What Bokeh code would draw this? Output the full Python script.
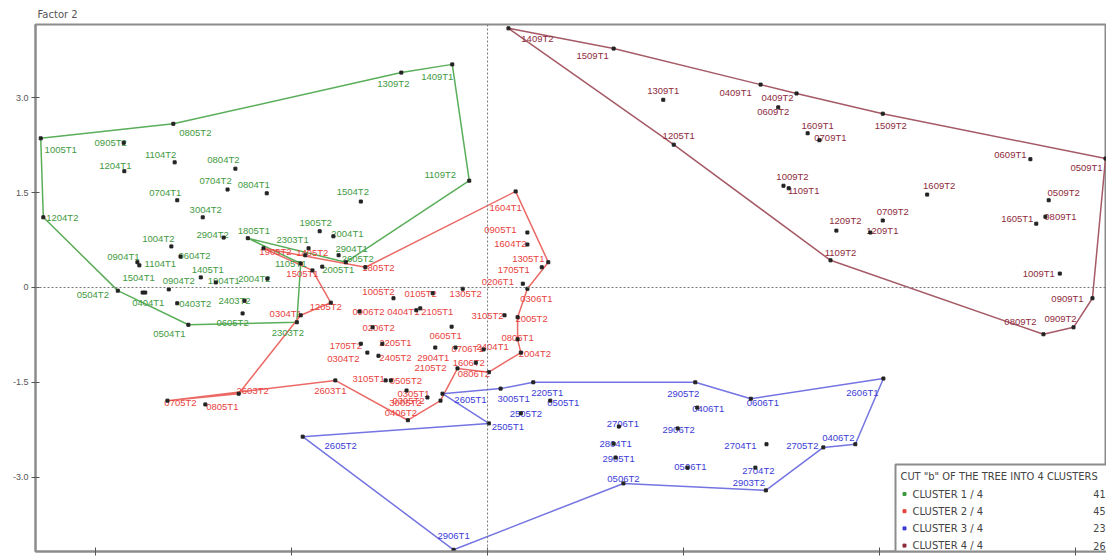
from bokeh.plotting import figure
from bokeh.models import (Span, FixedTicker, CustomJSTickFormatter,
                          Range1d, ColumnDataSource, Label)
from bokeh.core.properties import value
from bokeh.embed import file_html
from bokeh.resources import INLINE

# ---------------- data (factor 1 = x, factor 2 = y) ----------------
c1_labels = ["1309T2","1409T1","0805T2","1005T1","0905T2","1104T2","1204T1","0804T2","0704T2","0804T1",
             "0704T1","3004T2","1204T2","1004T2","2904T2","1805T1","1109T2","1504T2","1905T2","2004T1",
             "2303T1","2904T1","2605T2","2005T1","1105T1","2004T2","1904T1","1405T1","1504T1","0904T2",
             "0404T1","0504T2","0504T1","0403T2","2403T2","0605T2","2303T2","0904T1","1104T1","0604T2"]
c1_x = [-1.32,-0.54,-4.81,-6.84,-5.57,-4.79,-5.56,-3.86,-3.98,-3.38,
        -4.75,-4.36,-6.80,-4.84,-4.04,-3.67,-0.28,-1.94,-2.57,-2.36,
        -2.74,-2.28,-2.17,-2.53,-2.86,-3.37,-4.16,-4.39,-5.28,-4.88,
        -5.24,-5.66,-4.58,-4.75,-3.72,-3.75,-2.92,-5.36,-5.33,-4.70]
c1_y = [3.40,3.53,2.59,2.36,2.29,1.98,1.84,1.88,1.55,1.49,
        1.38,1.11,1.11,0.65,0.79,0.78,1.69,1.36,0.89,0.81,
        0.62,0.51,0.40,0.33,0.38,0.14,0.08,0.16,-0.08,-0.03,
        -0.08,-0.05,-0.59,-0.25,-0.21,-0.41,-0.55,0.40,0.35,0.49]
c1_hull = ["1005T1","0805T2","1309T2","1409T1","1109T2","2605T2","1805T1","1105T1",
           "2303T2","0504T1","0504T2","1204T2"]

c2_labels = ["1604T1","0905T1","1604T2","1305T1","1705T1","0206T1","0306T1","3105T2","2005T2","0806T1",
             "2004T2","2404T1","1305T2","0105T2","1005T2","0906T2","0404T1","2105T1","0605T1","0206T2",
             "2205T1","1705T2","0304T2","2405T2","2904T1","0706T1","2105T2","1606T2","0806T2","3105T1",
             "0505T2","0305T1","3005T2","0406T2","0305T2","2603T1","0705T2","0805T1","2603T2","0304T1",
             "1205T2","1505T1","1905T2","1405T2","1805T2"]
c2_x = [0.43,0.61,0.61,0.93,0.83,0.54,0.61,0.26,0.46,0.46,
        0.51,-0.06,-0.38,-0.84,-1.44,-1.96,-1.09,-1.03,-0.55,-1.76,
        -1.61,-1.94,-1.84,-1.67,-0.80,-0.49,-0.46,-0.18,0.02,-1.56,
        -1.48,-1.24,-0.92,-1.22,-0.72,-2.33,-4.90,-4.32,-3.81,-2.86,
        -2.40,-2.68,-3.43,-2.79,-1.87]
c2_y = [1.52,0.87,0.68,0.40,0.32,0.06,-0.02,-0.44,-0.47,-0.82,
        -1.03,-0.98,-0.02,-0.09,-0.17,-0.38,-0.36,-0.33,-0.62,-0.63,
        -0.89,-0.89,-1.03,-1.08,-0.95,-0.95,-1.28,-1.19,-1.34,-1.47,
        -1.47,-1.63,-1.74,-2.10,-1.79,-1.47,-1.79,-1.85,-1.68,-0.44,
        -0.24,0.27,0.62,0.51,0.32]
c2_hull = ["1604T1","1305T1","0306T1","2005T2","0806T1","2004T2","0806T2","2105T2","0305T2",
           "0406T2","2603T1","0705T2","2603T2","0304T1","1205T2","1505T1","1905T2","1805T2"]

c3_labels = ["2605T1","3005T1","2205T1","0505T1","2505T2","2505T1","2905T2","0406T1","0606T1","2606T1",
             "2706T1","2906T2","2804T1","2905T1","0506T1","0506T2","2704T1","2705T2","0406T2","2704T2",
             "2903T2","2906T1","2605T2"]
c3_x = [-0.69,0.20,0.70,0.96,0.51,0.02,3.18,3.21,4.03,6.06,
        2.01,2.91,1.93,1.96,3.06,2.08,4.27,5.14,5.63,4.10,
        4.26,-0.52,-2.83]
c3_y = [-1.68,-1.60,-1.50,-1.79,-1.99,-2.15,-1.50,-1.90,-1.76,-1.44,
        -2.20,-2.23,-2.47,-2.69,-2.85,-3.10,-2.48,-2.53,-2.48,-2.85,
        -3.21,-4.15,-2.36]
c3_hull = ["2605T2","2505T1","2605T1","3005T1","2205T1","2905T2","0606T1","2606T1",
           "0406T2","2705T2","2903T2","0506T2","2906T1"]

c4_labels = ["1409T2","1509T1","1309T1","0409T1","0409T2","0609T2","1205T1","1509T2","1609T1","0709T1",
             "0609T1","0509T1","1009T2","1109T1","1609T2","0709T2","1209T2","1209T1","1109T2","0509T2",
             "0809T1","1605T1","1009T1","0909T1","0909T2","0809T2"]
c4_x = [0.32,1.93,2.69,4.18,4.73,4.45,2.85,6.05,4.90,5.08,
        8.31,9.46,4.53,4.61,6.73,6.05,5.34,5.86,5.25,8.59,
        8.54,8.40,8.76,9.26,8.97,8.51]
c4_y = [4.10,3.78,2.97,3.21,3.07,2.85,2.26,2.75,2.44,2.33,
        2.03,2.04,1.61,1.57,1.47,1.06,0.90,0.87,0.43,1.38,
        1.12,1.01,0.22,-0.17,-0.63,-0.74]
c4_hull = ["1409T2","1509T1","0409T1","0409T2","1509T2","0509T1","0909T1","0909T2",
           "0809T2","1109T2","1205T1"]

legend_title = 'CUT "b" OF THE TREE INTO  4 CLUSTERS'
cluster_names = ["CLUSTER 1 / 4", "CLUSTER 2 / 4", "CLUSTER 3 / 4", "CLUSTER 4 / 4"]
cluster_counts = ["41", "45", "23", "26"]
y_ticks = [-3.0, -1.5, 0.0, 1.5, 3.0]
x_ticks = [-6.0, -3.0, 0.0, 3.0, 6.0, 9.0]

# ---------------- label placement (screen-pixel offsets, layout only) ----------------
c1_dx = [-8,-15,22,20,-13,-14,-9,-12,-12,-13,-12,3,19,-13,-11,6,-29,-8,-4,14,
         -16,13,12,16,-10,-13,8,7,-4,10,3,-25,-19,18,-10,-10,-9,-14,21,14]
c1_dy = [11,12,9,11,0,-8,-6,-9,-9,-9,-8,-8,0,-8,-3,-8,-6,-10,-9,-3,
         -9,-7,-4,3,0,0,-2,-8,-15,-9,10,4,9,0,0,9,10,-6,-2,-1]
c2_dx = [-10,-27,-17,-20,-28,-25,9,-17,14,0,14,9,3,-12,-15,9,-13,17,-6,6,
         13,-15,-24,17,-2,12,-27,-7,-15,-17,15,7,-22,-7,-32,-5,13,17,14,-15,
         -5,-10,12,7,13]
c2_dy = [16,-3,-1,-4,2,-2,10,0,1,-2,1,-3,5,0,-7,0,1,3,9,0,
         -1,2,6,2,10,1,-1,0,1,-2,0,3,5,-8,0,10,2,2,-3,-2,
         4,3,3,-3,0]
c3_dx = [28,13,14,13,5,19,-12,11,12,-21,4,1,2,3,3,0,-26,-21,-17,3,-17,0,38]
c3_dy = [6,10,10,2,0,3,11,1,4,14,-3,1,0,1,-1,-5,1,-2,-7,3,-8,-14,9]
c4_dx = [29,-21,0,-25,-19,-5,5,8,10,11,-20,-19,9,15,12,10,9,12,10,15,15,-19,-21,-25,-13,-23]
c4_dy = [10,7,-9,8,4,4,-9,12,-8,-3,-5,9,-9,2,-9,-9,-10,-2,-8,-8,0,-5,0,0,-9,-13]

label_colors = ["#3f9a3f", "#e8423e", "#3b3bd6", "#8e2c3c"]
hull_colors = ["#5aae5a", "#ec6a66", "#7474e2", "#a55a66"]

W, H = 1106, 558
FL, FR, FT, FB = 35, 1106, 24, 551
X0, X1 = -6.92, 9.475
Y0, Y1 = -4.177, 4.161
FONT_NAME = "Liberation Sans"
FONT = value(FONT_NAME)
LEG_FONT = "DejaVu Sans"

def px2x(px):
    return X0 + (px - FL) / (FR - FL) * (X1 - X0)

def py2y(py):
    return Y1 - (py - FT) / (FB - FT) * (Y1 - Y0)

p = figure(width=W, height=H, x_range=Range1d(X0, X1), y_range=Range1d(Y0, Y1),
           output_backend="svg", toolbar_location=None,
           min_border_left=FL, min_border_right=0, min_border_top=FT,
           min_border_bottom=H - FB)
p.background_fill_color = "white"
p.border_fill_color = "white"
p.xgrid.visible = False
p.ygrid.visible = False
p.outline_line_color = "#8c8c8c"
p.outline_line_width = 2

p.title.text = "Factor 2"
p.title.text_font = LEG_FONT
p.title.text_font_size = "10px"
p.title.text_font_style = "normal"
p.title.text_color = "#555555"
p.title.offset = 2

for ax in (p.xaxis[0], p.yaxis[0]):
    ax.axis_line_color = "#8c8c8c"
    ax.axis_line_width = 2
    ax.major_tick_line_color = "#555555"
    ax.major_tick_in = 4
    ax.major_tick_out = 4
    ax.minor_tick_line_color = None
    ax.major_label_text_font = FONT_NAME
    ax.major_label_text_font_size = "9px"
    ax.major_label_text_color = "#555555"

p.yaxis[0].ticker = FixedTicker(ticks=y_ticks)
p.yaxis[0].formatter = CustomJSTickFormatter(code='return tick == 0 ? "0" : tick.toFixed(1);')
p.yaxis[0].major_label_standoff = 3
p.xaxis[0].ticker = FixedTicker(ticks=x_ticks)
p.xaxis[0].formatter = CustomJSTickFormatter(code='return "";')
p.xaxis[0].major_label_standoff = 0

p.add_layout(Span(location=0, dimension="width", line_color="#777777", line_dash="2 2", line_width=1))
p.add_layout(Span(location=0, dimension="height", line_color="#777777", line_dash="2 2", line_width=1))

clusters = [
    (c1_labels, c1_x, c1_y, c1_hull, c1_dx, c1_dy),
    (c2_labels, c2_x, c2_y, c2_hull, c2_dx, c2_dy),
    (c3_labels, c3_x, c3_y, c3_hull, c3_dx, c3_dy),
    (c4_labels, c4_x, c4_y, c4_hull, c4_dx, c4_dy),
]

for i, (labs, xs, ys, hull, dxs, dys) in enumerate(clusters):
    lookup = {n: (xv, yv) for n, xv, yv in zip(labs, xs, ys)}
    hx = [lookup[n][0] for n in hull] + [lookup[hull[0]][0]]
    hy = [lookup[n][1] for n in hull] + [lookup[hull[0]][1]]
    p.line(hx, hy, line_color=hull_colors[i], line_width=1.5)

for i, (labs, xs, ys, hull, dxs, dys) in enumerate(clusters):
    src = ColumnDataSource(dict(x=xs, y=ys, t=labs, dx=dxs, dy=dys))
    p.text(x="x", y="y", text="t", x_offset="dx", y_offset="dy", source=src,
           text_font=FONT, text_font_size="9.5px", text_color=label_colors[i],
           text_align="center", text_baseline="middle")
    p.scatter(x="x", y="y", source=src, marker="square", size=3,
              fill_color="#222222", line_color="#222222")

# legend box (drawn as a glyph so its dots can sit on top)
p.quad(left=[px2x(895)], right=[px2x(1110)], top=[py2y(464)], bottom=[py2y(556)],
       fill_color="white", line_color="#8c8c8c", line_width=2)
p.add_layout(Label(x=px2x(900), y=py2y(476), text=legend_title, text_font=LEG_FONT,
                   text_font_size="9.9px", text_color="#444444", text_baseline="middle"))
for i, (nm, cnt) in enumerate(zip(cluster_names, cluster_counts)):
    yy = py2y(493.5 + 17.2 * i)
    p.scatter([px2x(904)], [yy], marker="square", size=3,
              fill_color=label_colors[i], line_color=label_colors[i])
    p.add_layout(Label(x=px2x(912), y=yy, text=nm, text_font=LEG_FONT, text_font_size="10px",
                       text_color="#444444", text_baseline="middle"))
    p.add_layout(Label(x=px2x(1105), y=yy, text=cnt, text_font=LEG_FONT, text_font_size="9.6px",
                       text_color="#444444", text_baseline="middle", text_align="right"))

open("out.html", "w").write(file_html(p, INLINE))
